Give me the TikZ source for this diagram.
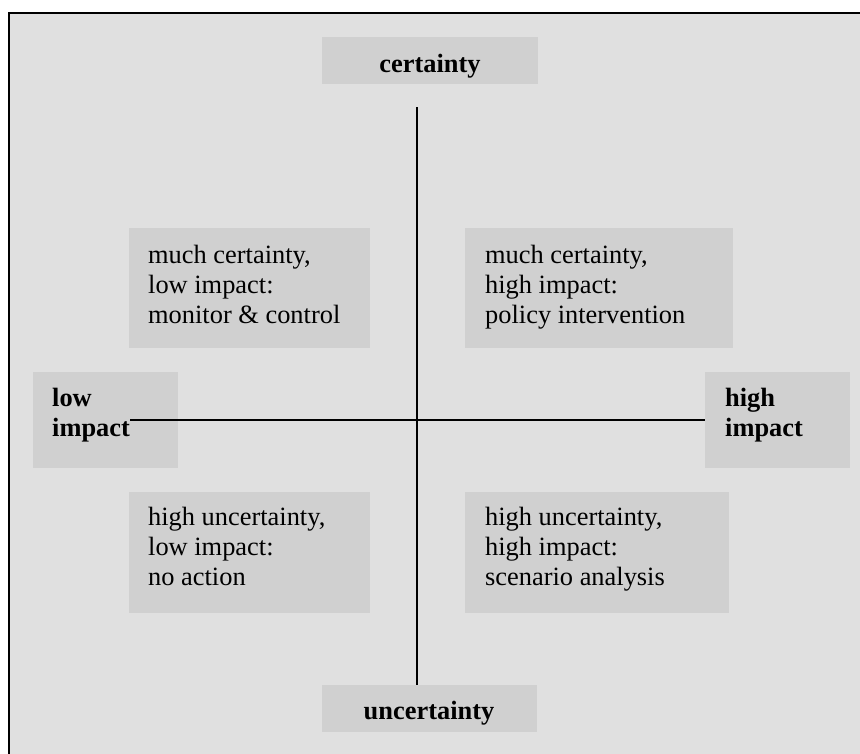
\documentclass[tikz,border=0pt]{standalone}
\usepackage{fontspec}
\setmainfont{Liberation Serif}
\definecolor{bgc}{HTML}{E0E0E0}
\definecolor{boxc}{HTML}{D0D0D0}
\begin{document}
\begin{tikzpicture}[x=1pt,y=-1pt,
  qbox/.style={fill=boxc, draw=none, inner sep=0pt, anchor=north west},
  txt/.style={anchor=base west, inner sep=0pt, font=\fontsize{26.4}{30}\selectfont},
  btxt/.style={txt, font=\fontsize{26.4}{30}\selectfont\bfseries},
  axisline/.style={line width=1.6pt, black}]
\useasboundingbox (0,0) rectangle (860,753);
\fill[white] (0,0) rectangle (860,753);
\draw[fill=bgc, line width=1.8pt] (9,13) rectangle (900,800);
% boxes
\node[qbox, minimum width=216, minimum height=47] (cbox) at (322,37) {};
\node[qbox, minimum width=215, minimum height=47] (ubox) at (322,685) {};
\node[qbox, minimum width=145, minimum height=96] (lbox) at (33,372) {};
\node[qbox, minimum width=145, minimum height=96] (hbox) at (705,372) {};
\node[qbox, minimum width=241, minimum height=120] (tlbox) at (129,228) {};
\node[qbox, minimum width=268, minimum height=120] (trbox) at (465,228) {};
\node[qbox, minimum width=241, minimum height=121] (blbox) at (129,492) {};
\node[qbox, minimum width=264, minimum height=121] (brbox) at (465,492) {};
% axes
\coordinate (vtop) at (417,107);
\coordinate (hleft) at (130,420);
\draw[axisline] (vtop) -- (vtop |- ubox.north);
\draw[axisline] (hleft) -- (hleft -| hbox.west);
% labels
\node[btxt, anchor=base] (ctxt) at (430,72) {certainty};
\node[btxt, anchor=base] (utxt) at (429,719) {uncertainty};
\node[btxt] (ltxt) at (52,406) {\begin{tabular}[t]{@{}l@{}}low\\impact\end{tabular}};
\node[btxt] (htxt) at (725,406) {\begin{tabular}[t]{@{}l@{}}high\\impact\end{tabular}};
\node[txt] (tltxt) at (148,263) {\begin{tabular}[t]{@{}l@{}}much certainty,\\low impact:\\monitor \& control\end{tabular}};
\node[txt] (trtxt) at (485,263) {\begin{tabular}[t]{@{}l@{}}much certainty,\\high impact:\\policy intervention\end{tabular}};
\node[txt] (bltxt) at (148,525) {\begin{tabular}[t]{@{}l@{}}high uncertainty,\\low impact:\\no action\end{tabular}};
\node[txt] (brtxt) at (485,525) {\begin{tabular}[t]{@{}l@{}}high uncertainty,\\high impact:\\scenario analysis\end{tabular}};
\end{tikzpicture}
\end{document}
